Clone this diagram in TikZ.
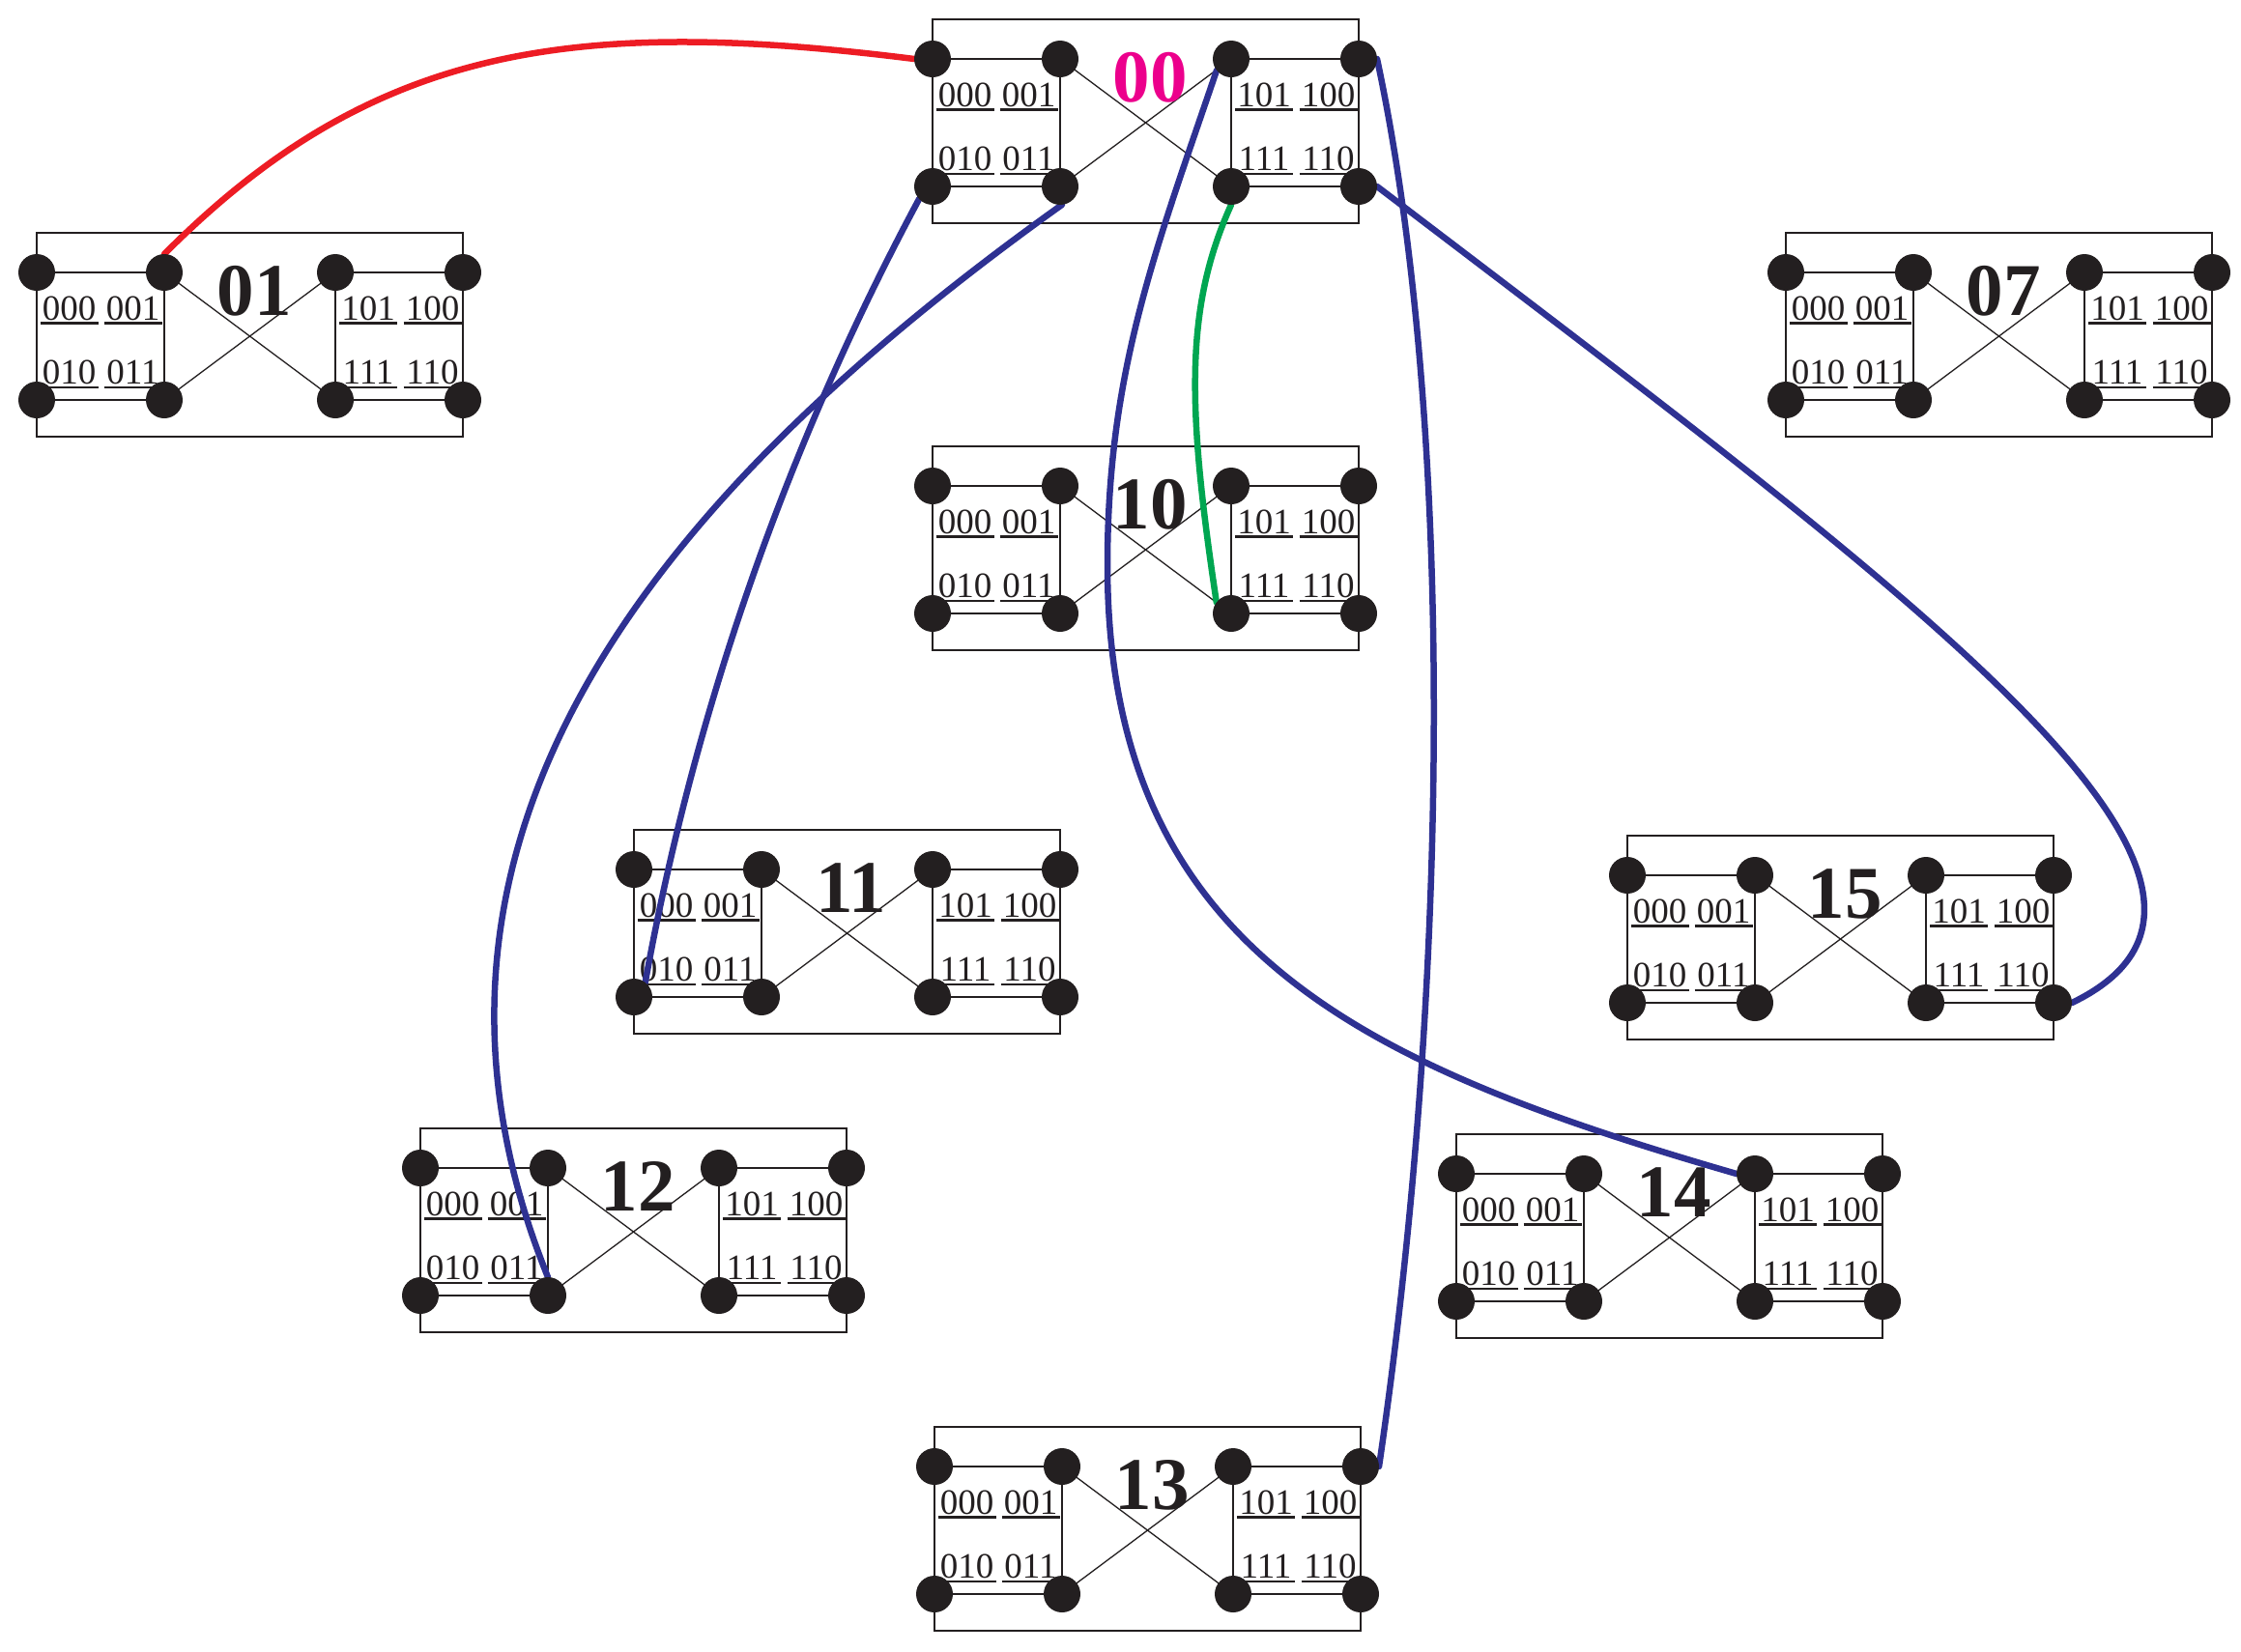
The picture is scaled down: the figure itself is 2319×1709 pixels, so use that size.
\documentclass[tikz,border=0pt]{standalone}
\usepackage{fontspec}
\setmainfont{Liberation Serif}
\pgfdeclarelayer{front}
\pgfsetlayers{main,front}
\definecolor{ink}{HTML}{231F20}
\definecolor{cred}{HTML}{ED1C24}
\definecolor{cblue}{HTML}{2E3192}
\definecolor{cgreen}{HTML}{00A651}
\definecolor{cmag}{HTML}{EC008C}
\tikzset{
  dot/.style={circle, fill=ink, minimum size=38pt, inner sep=0pt, outer sep=0pt},
  frame/.style={draw=ink, line width=1.3pt},
  wire/.style={draw=ink, line width=1.3pt},
  ulin/.style={draw=ink, line width=2.5pt},
  digit/.style={inner sep=0pt, text=ink, font=\fontsize{37}{40}\selectfont, anchor=base},
  lab/.style={inner sep=0pt, font=\fontsize{77}{80}\selectfont\bfseries, anchor=base},
  link/.style={line width=6.5pt, line cap=round},
}
\newcommand\modul[5]{%
\begin{scope}[shift={(#2,#3)}]
  \draw[frame] (0,0) rectangle (441,211);
  \draw[wire] (0,41) -- (132,41) -- (132,173) -- (0,173);
  \draw[wire] (441,41) -- (309,41) -- (309,173) -- (441,173);
  \draw[wire] (132,41) -- (309,173);
  \draw[wire] (132,173) -- (309,41);
  \node[digit] (#1-a) at (33.5,90) {000};
  \node[digit] (#1-b) at (99.5,90) {001};
  \node[digit] (#1-c) at (343,90) {101};
  \node[digit] (#1-d) at (409.5,90) {100};
  \node[digit] (#1-e) at (33.5,156) {010};
  \node[digit] (#1-f) at (99.5,156) {011};
  \node[digit] (#1-g) at (343,156) {111};
  \node[digit] (#1-h) at (409.5,156) {110};
  \draw[ulin] (3.5,93.7) -- (63.5,93.7) (69.5,93.7) -- (129.5,93.7)
              (313,93.7) -- (373,93.7) (379.5,93.7) -- (439.5,93.7);
  \draw[ulin] (3.5,160) -- (63.5,160) (69.5,160) -- (129.5,160)
              (313,160) -- (373,160) (379.5,160) -- (439.5,160);
  \node[lab, text=#5] (#1-lab) at (225,85) {#4};
  \begin{pgfonlayer}{front}
    \node[dot] (#1-1) at (0,41) {};
    \node[dot] (#1-2) at (132,41) {};
    \node[dot] (#1-3) at (309,41) {};
    \node[dot] (#1-4) at (441,41) {};
    \node[dot] (#1-5) at (0,173) {};
    \node[dot] (#1-6) at (132,173) {};
    \node[dot] (#1-7) at (309,173) {};
    \node[dot] (#1-8) at (441,173) {};
  \end{pgfonlayer}
\end{scope}}
\begin{document}
\begin{tikzpicture}[x=1pt, y=-1pt]
  \fill[white] (0,0) rectangle (2319,1709);
  \useasboundingbox (0,0) rectangle (2319,1709);
  \modul{m00}{965}{20}{00}{cmag}
  \modul{m01}{38}{241}{01}{ink}
  \modul{m07}{1848}{241}{07}{ink}
  \modul{m10}{965}{462}{10}{ink}
  \modul{m11}{656}{859}{11}{ink}
  \modul{m12}{435}{1168}{12}{ink}
  \modul{m13}{967}{1477}{13}{ink}
  \modul{m14}{1507}{1174}{14}{ink}
  \modul{m15}{1684}{865}{15}{ink}
  \draw[link, cred] (m01-2.north) .. controls (383,49) and (589,16) .. (m00-1.west);
  \draw[link, cblue] (m00-5.223) .. controls (817,456) and (719,732) .. (m11-5.52);
  \draw[link, cblue] (m00-6.276) .. controls (692,503) and (380,860) .. (m12-6.north);
  \draw[link, cblue] (m00-3.218) .. controls (1195,261) and (1146,385) .. (1146,585)
        .. controls (1146,985) and (1414,1104) .. (m14-3.west);
  \draw[link, cblue] (m00-4.east) .. controls (1503,426) and (1503,1000) .. (m13-4.east);
  \draw[link, cblue] (m00-8.east) .. controls (1980,616) and (2395,917) .. (m15-8.east);
  \draw[link, cgreen] (m00-7.south) .. controls (1225,320) and (1229,425) .. (m10-7.143);
\end{tikzpicture}
\end{document}
